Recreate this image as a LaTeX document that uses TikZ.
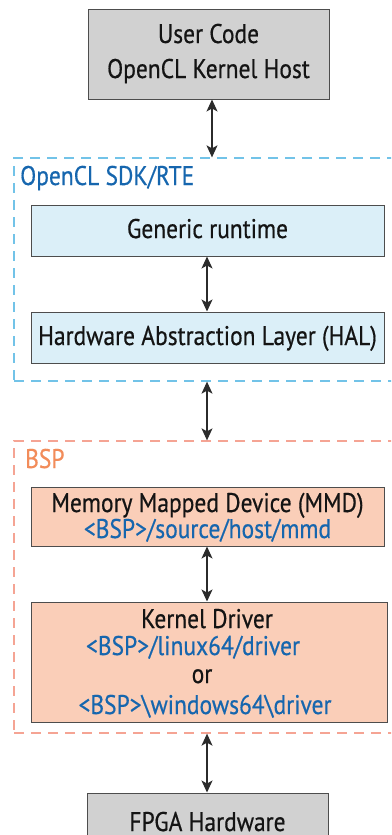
\documentclass[tikz,border=0pt]{standalone}
\usepackage{fontspec}
\setmainfont{PT Sans}[FakeStretch=0.87, FakeBold=0.5]
\usetikzlibrary{arrows.meta}
\definecolor{hostgray}{HTML}{D1D1D1}
\definecolor{rtefill}{HTML}{DBEFF8}
\definecolor{bspfill}{HTML}{FACEB8}
\definecolor{rtedash}{HTML}{72C3E8}
\definecolor{bspdash}{HTML}{F5A494}
\definecolor{pathblue}{HTML}{1666AE}
\definecolor{bsporange}{HTML}{F28C5A}
\definecolor{edge}{HTML}{4D4D4D}
\definecolor{arrowc}{HTML}{2B2B2B}
\begin{document}
\begin{tikzpicture}[x=1pt,y=-1pt,
  box/.style={draw=edge, line width=1pt, inner sep=0pt, rectangle},
  group/.style={draw, dash pattern=on 10pt off 7pt, line width=1.3pt, inner sep=0pt, rectangle},
  lbl/.style={anchor=base, inner sep=0pt, font=\fontsize{27}{32}\selectfont, text=black!92},
  path/.style={lbl, text=pathblue},
  link/.style={draw=arrowc, line width=1.2pt,
    {Stealth[length=12pt,width=11pt,inset=3pt]}-{Stealth[length=12pt,width=11pt,inset=3pt]}}]
\useasboundingbox (0,0) rectangle (391,835);
\clip (0,0) rectangle (391,835);

% host side
\node[box, fill=hostgray, minimum width=241pt, minimum height=90pt] (user) at (208.5,54) {};
\node[lbl] (user1) at (208.5,43) {User Code};
\node[lbl] (user2) at (208.5,78) {OpenCL Kernel Host};

% OpenCL SDK / runtime environment
\node[group, draw=rtedash, minimum width=386pt, minimum height=223pt] (sdk) at (207,269.5) {};
\node[lbl, text=pathblue, anchor=base west] (sdklbl) at (20,185) {OpenCL SDK/RTE};
\node[box, fill=rtefill, minimum width=353pt, minimum height=51pt] (gen) at (207.5,230.5) {};
\node[lbl] (gentxt) at (207.5,238) {Generic runtime};
\node[box, fill=rtefill, minimum width=353pt, minimum height=51pt] (hal) at (207.5,337.5) {};
\node[lbl] (haltxt) at (207.5,345) {Hardware Abstraction Layer (HAL)};

% board support package
\node[group, draw=bspdash, minimum width=386pt, minimum height=292pt] (bsp) at (207,587) {};
\node[lbl, text=bsporange, anchor=base west] (bsplbl) at (25,468) {BSP};
\node[box, fill=bspfill, minimum width=353pt, minimum height=59pt] (mmd) at (207.5,516.5) {};
\node[lbl] (mmd1) at (207.5,512) {Memory Mapped Device (MMD)};
\node[path] (mmd2) at (207.5,538) {<BSP>/source/host/mmd};
\node[box, fill=bspfill, minimum width=356pt, minimum height=120pt] (kd) at (209,662) {};
\node[lbl] (kd1) at (207,628) {Kernel Driver};
\node[path] (kd2) at (193,655) {<BSP>/linux64/driver};
\node[lbl] (kd3) at (202,683) {or};
\node[path] (kd4) at (205,714) {<BSP>\textbackslash windows64\textbackslash driver};

% hardware
\node[box, fill=hostgray, minimum width=241pt, minimum height=90pt] (fpga) at (207.5,838) {};
\node[lbl] (fpgatxt) at (207.5,831) {FPGA Hardware};

% connectors
\coordinate (ax1) at (212,0);
\coordinate (ax2) at (207,0);
\draw[link] (user.south -| ax1) -- (sdk.north -| ax1);
\draw[link] (gen.south -| ax2) -- (hal.north -| ax2);
\draw[link] (sdk.south -| ax2) -- (bsp.north -| ax2);
\draw[link] (mmd.south -| ax2) -- (kd.north -| ax2);
\draw[link] (bsp.south -| ax2) -- (fpga.north -| ax2);
\end{tikzpicture}
\end{document}
